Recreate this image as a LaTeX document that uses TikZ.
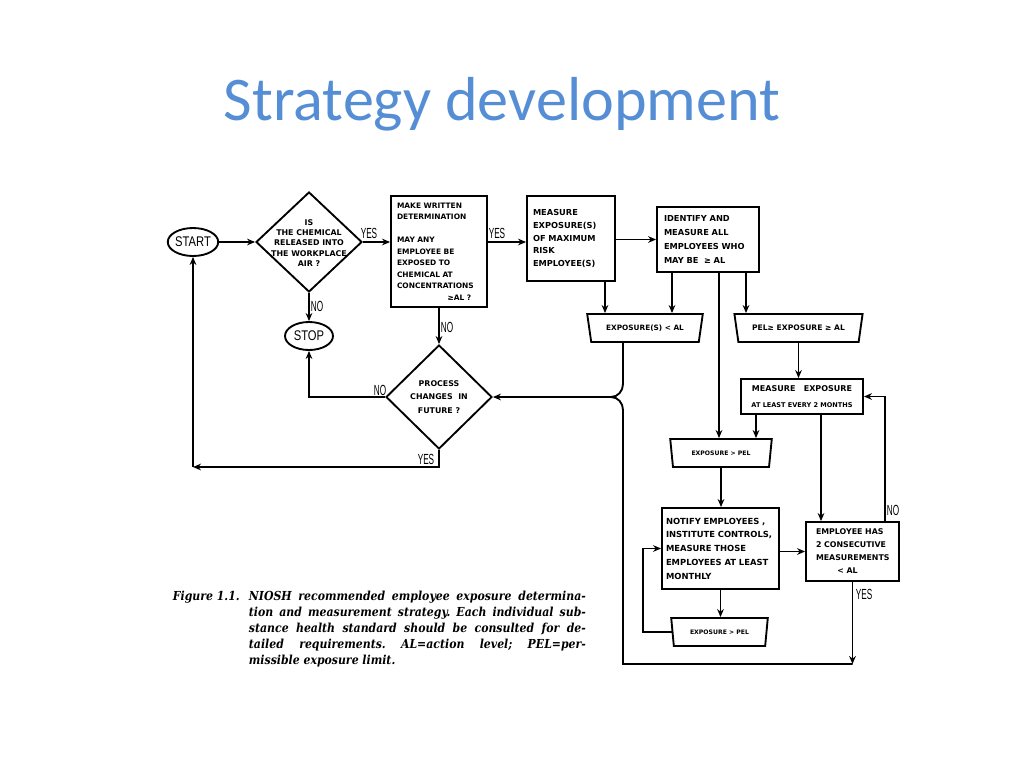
\documentclass[tikz,border=0pt]{standalone}
\usepackage{fontspec}
\setmainfont{DejaVu Sans}
\newfontfamily\boxfont{DejaVu Sans Bold}
\newfontfamily\titlefont{Carlito}
\newfontfamily\lblfont[FakeStretch=0.56]{Liberation Sans}
\newfontfamily\termfont[FakeStretch=0.8]{Liberation Sans}
\newfontfamily\capfont[FakeStretch=0.88]{DejaVu Serif}
\usetikzlibrary{shapes.geometric,arrows.meta,calc}
\definecolor{titleblue}{RGB}{85,142,213}
\frenchspacing
\newcommand\jline[1]{\makebox[252.75pt][s]{#1}}
\newcommand\fs[2]{\boxfont\fontsize{#1}{#2}\selectfont}
\begin{document}
\begin{tikzpicture}[x=0.75pt,y=-0.75pt,
  line width=1.4pt,
  >={Stealth[length=6pt,width=5pt]},
  box/.style={draw, rectangle, align=left, inner sep=0pt},
  dia/.style={draw, diamond, inner sep=0pt},
  dtext/.style={align=center, inner sep=0pt},
  term/.style={draw, ellipse, inner sep=0pt, font=\termfont\fontsize{10.5}{10}\selectfont},
  trap/.style={draw, trapezium, trapezium stretches=true, shape border rotate=180,
    trapezium angle=66, inner sep=0pt, minimum height=21pt},
  lbl/.style={font=\lblfont\fontsize{11}{11}\selectfont, inner sep=0pt},
  capstyle/.style={anchor=base west, inner sep=0pt, font=\capfont\bfseries\itshape\fontsize{9.3}{10}\selectfont},
]
\useasboundingbox (0,0) rectangle (1024,768);

% title
\node[anchor=base, inner sep=0pt, text=titleblue, font=\titlefont\fontsize{46.6}{50}\selectfont] (title) at (502,120) {Strategy development};

% terminals
\node[term, minimum width=37.5pt, minimum height=21pt] (start) at (193,242) {START};
\node[term, minimum width=36pt, minimum height=21pt] (stop) at (309,336) {STOP};

% diamonds
\node[dia, minimum width=79.5pt, minimum height=75pt] (d1) at (309,242) {};
\node[dtext, font=\fs{5.9}{7.7}] (d1t) at (309,243) {IS\\THE CHEMICAL\\RELEASED INTO\\THE WORKPLACE\\AIR ?};
\node[dia, minimum width=79.5pt, minimum height=78pt] (d2) at (439,397) {};
\node[dtext, font=\fs{5.9}{10}] (d2t) at (439,397) {PROCESS\\CHANGES~~IN\\FUTURE ?};

% boxes
\node[box, minimum width=72pt, minimum height=83.25pt, text width=63pt, font=\fs{5.6}{8.6}] (b1) at (439,251.5)
 {MAKE WRITTEN\\DETERMINATION\\[8.6pt]MAY ANY\\EMPLOYEE BE\\EXPOSED TO\\CHEMICAL AT\\CONCENTRATIONS\\\hspace*{38pt}≥AL ?};
\node[box, minimum width=66pt, minimum height=63.75pt, text width=57pt, font=\fs{6.2}{9.5}] (b2) at (571,238.5)
 {MEASURE\\EXPOSURE(S)\\OF MAXIMUM\\RISK\\EMPLOYEE(S)};
\node[box, minimum width=76.5pt, minimum height=48.75pt, text width=66pt, font=\fs{6.2}{10.7}] (b3) at (708,239.5)
 {IDENTIFY AND\\MEASURE ALL\\EMPLOYEES WHO\\MAY BE~~≥ AL};
\node[box, align=center, minimum width=91.5pt, minimum height=26.25pt, font=\fs{6}{12}] (meas) at (802,396.5)
 {MEASURE~~~EXPOSURE\\{\fs{4.9}{12}AT LEAST EVERY 2 MONTHS}};
\node[box, minimum width=87.75pt, minimum height=60.75pt, text width=81.75pt, font=\fs{6.3}{10.3}] (nt) at (720.5,548.5)
 {NOTIFY EMPLOYEES ,\\INSTITUTE CONTROLS,\\MEASURE THOSE\\EMPLOYEES AT LEAST\\MONTHLY};
\node[box, minimum width=69.75pt, minimum height=44.25pt, text width=54.75pt, font=\fs{5.9}{9.75}] (emp) at (852.5,551.5)
 {EMPLOYEE HAS\\2 CONSECUTIVE\\MEASUREMENTS\\\hspace*{16pt}< AL};

% trapezia
\node[trap, minimum width=87pt, font=\fs{5.5}{7}] (t1) at (645,328) {EXPOSURE(S) < AL};
\node[trap, trapezium angle=62, minimum width=96.75pt, font=\fs{5.7}{7}] (t2) at (798.5,328) {PEL≥ EXPOSURE ≥ AL};
\node[trap, trapezium angle=70, minimum width=76.5pt, font=\fs{4.6}{6}] (t3) at (721,453) {EXPOSURE > PEL};
\node[trap, trapezium angle=70, minimum width=72.75pt, font=\fs{4.6}{6}] (t4) at (719.5,632) {EXPOSURE > PEL};

% connectors left part
\draw[->] (start.east) -- (start.east -| d1.west);
\draw[->] (d1.east) -- (d1.east -| b1.west);
\draw[->] (d1.south) -- (stop.north);
\draw[->] (d1.east -| b1.east) -- (d1.east -| b2.west);
\draw[->] (b1.south) -- (d2.north);
\draw[->] (d2.west) -| (stop.south);
\draw[->] (d2.south) |- (start.south |- 0,467);
\draw[->] (start.south |- 0,467) -- (start.south);

% connectors right part
\draw[->] (b3.west -| b2.east) -- (b3.west);
\draw[->] (b2.south -| 605,0) -- (t1.north -| 605,0);
\draw[->] (b3.south -| 672,0) -- (t1.north -| 672,0);
\draw[->] (b3.south -| 719,0) -- (t3.north -| 719,0);
\draw[->] (b3.south -| 746,0) -- (t2.north -| 746,0);
\draw[->] (t2.south) -- (t2.south |- meas.north);
\draw[->] (meas.south -| 756,0) -- (t3.north -| 756,0);
\draw[->] (meas.south -| 821,0) -- (emp.north -| 821,0);
\draw[->] (t3.south) -- (t3.south |- nt.north);
\draw[->] (emp.west -| nt.east) -- (emp.west);
\draw[->] (emp.north -| 885,0) |- (meas.east);
\draw[->] (nt.south) -- (nt.south |- t4.north);
\draw[->] (t4.west) -- (t4.west -| 643,0) |- (nt.west);

% brace junction into d2
\coordinate (j) at (611,397);
\draw[->] (emp.south) -- (emp.south |- 0,664);
\draw (emp.south |- 0,664) -| ($(j)+(12,13)$) to[out=90,in=0] (j);
\draw (t1.south -| 623,0) -- ($(j)+(12,-13)$) to[out=-90,in=0] (j);
\draw[->] (j) -- (d2.east);

% labels
\node[lbl] (l1) at (369,233) {YES};
\node[lbl] (l2) at (317,306) {NO};
\node[lbl] (l3) at (497,233) {YES};
\node[lbl] (l4) at (447,327) {NO};
\node[lbl] (l5) at (380,390) {NO};
\node[lbl] (l6) at (426,459) {YES};
\node[lbl] (l7) at (893,510) {NO};
\node[lbl] (l8) at (864,594) {YES};

% caption
\node[capstyle] (fig) at (172,600) {Figure 1.1.};
\node[capstyle] (c1) at (248,600) {\jline{NIOSH recommended employee exposure determina-}};
\node[capstyle] (c2) at (248,616) {\jline{tion and measurement strategy. Each individual sub-}};
\node[capstyle] (c3) at (248,632) {\jline{stance health standard should be consulted for de-}};
\node[capstyle] (c4) at (248,648) {\jline{tailed requirements. AL=action level; PEL=per-}};
\node[capstyle] (c5) at (248,664) {missible exposure limit.};
\end{tikzpicture}
\end{document}
